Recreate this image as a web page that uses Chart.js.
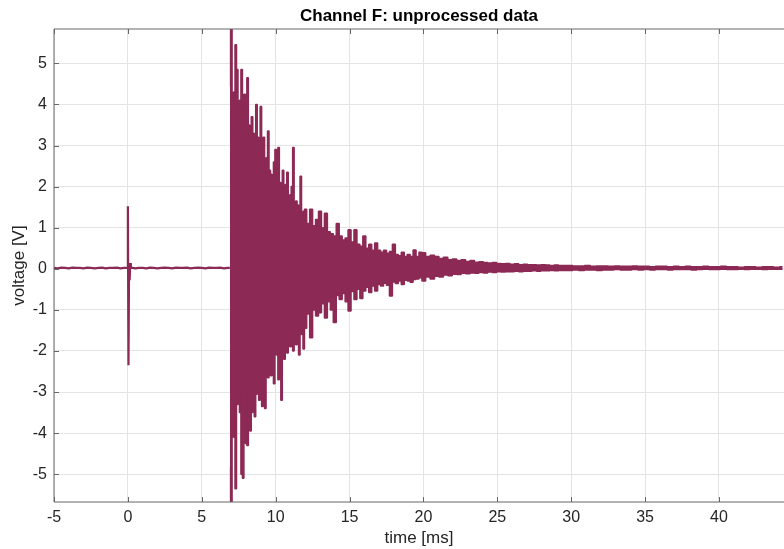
<!DOCTYPE html>
<html>
<head>
<meta charset="utf-8">
<script src="https://cdn.jsdelivr.net/npm/chart.js@4.4.1/dist/chart.umd.min.js"></script>
<style>
  html, body { margin: 0; padding: 0; background: #fff; }
  #wrap { width: 784px; height: 549px; position: relative; }
</style>
</head>
<body>
<div id="wrap"><canvas id="channelF"></canvas></div>
<script>
// axis ticks
const xTicks = [-5, 0, 5, 10, 15, 20, 25, 30, 35, 40];
const yTicks = [-5, -4, -3, -2, -1, 0, 1, 2, 3, 4, 5];

// quiet baseline before the burst, one sample every 0.25 ms from -5 ms
const baseStart = -5;
const baseStep = 0.25;
const baseValues = [0.02, 0.01, 0.03, 0.02, 0.01, 0.03, 0.02, 0.02, 0.01, 0.03,
  0.02, 0.01, 0.02, 0.03, 0.01, 0.02, 0.02, 0.03, 0.01, 0.02,
  0.02,
  0.03, 0.01, 0.02, 0.02, 0.01, 0.03, 0.02, 0.01, 0.02, 0.03,
  0.02, 0.01, 0.03, 0.02, 0.02, 0.03, 0.01, 0.02, 0.03, 0.02,
  0.01, 0.03, 0.02, 0.02, 0.03, 0.01, 0.02];
const onsetTime = 6.9;

// trigger spike at t = 0
const spikeTime = [-0.04, 0.0, 0.04, 0.08, 0.12, 0.16, 0.2];
const spikeValue = [0.02, 1.52, -2.35, 0.12, -0.28, 0.14, 0.02];

// burst: positive and negative peaks of the oscillation
// segment A, from 6.9 ms, every 0.1 ms
const upperA = [4.45, 5.85, 3.55, 4.3, 5.45, 4.85, 3.8, 4.1, 4.85, 3.7,
  4.25, 3.6, 4.65, 3.5, 3.1, 3.7, 3.3, 3.05, 4.0, 3.2,
  2.8, 3.95, 2.9, 3.2, 2.5, 2.7, 3.35, 2.4, 2.3, 2.05,
  2.6, 2.9, 2.0, 2.95, 2.1, 1.9, 2.4, 1.85, 2.05, 2.35,
  1.75, 1.8, 2.0, 2.95, 1.6, 1.65, 1.55, 1.45, 2.25, 1.3,
  1.4];
const lowerA = [-4.85, -5.7, -2.4, -4.1, -5.35, -3.3, -2.7, -3.5, -5.0, -5.1,
  -3.2, -4.25, -4.3, -3.0, -3.95, -3.5, -2.8, -3.6, -3.05, -2.5,
  -3.2, -2.6, -3.35, -2.4, -3.4, -2.2, -2.65, -2.0, -2.6, -1.9,
  -2.8, -2.0, -2.1, -2.7, -1.8, -3.2, -1.7, -2.2, -1.75, -2.05,
  -1.6, -1.9, -1.5, -2.0, -1.45, -1.85, -1.4, -2.1, -1.35, -1.6,
  -1.95];
// segment B, from 12 ms, every 0.2 ms
const upperB = [1.45, 1.1, 1.45, 1.05, 1.2, 1.4, 1.0, 1.35, 0.9, 0.85,
  0.8, 1.1, 0.8, 0.7, 0.75, 0.95, 0.65, 0.95, 0.6, 0.55,
  0.8, 0.5, 0.6, 0.45, 0.63, 0.45, 0.4, 0.45, 0.38, 0.42,
  0.6, 0.35, 0.32, 0.4, 0.3, 0.35, 0.3, 0.46, 0.3, 0.4];
const lowerB = [-1.45, -1.1, -1.68, -1.0, -1.15, -1.07, -0.85, -1.2, -0.8, -1.0,
  -1.31, -0.65, -0.75, -0.6, -0.8, -1.03, -0.55, -0.75, -0.5, -0.72,
  -0.54, -0.45, -0.58, -0.42, -0.54, -0.38, -0.42, -0.35, -0.4, -0.66,
  -0.32, -0.36, -0.3, -0.38, -0.28, -0.3, -0.33, -0.26, -0.25, -0.22];
// segment C, from 20 ms, every 0.3 ms
const upperC = [0.39, 0.3, 0.33, 0.3, 0.25, 0.28, 0.22, 0.24, 0.2, 0.22,
  0.18, 0.2, 0.16, 0.17, 0.15, 0.14, 0.15, 0.13, 0.12, 0.13,
  0.11, 0.12, 0.1, 0.11, 0.1, 0.1, 0.09, 0.1, 0.09, 0.08,
  0.09, 0.08, 0.08];
const lowerC = [-0.3, -0.2, -0.25, -0.18, -0.2, -0.15, -0.17, -0.13, -0.14, -0.11,
  -0.12, -0.1, -0.11, -0.09, -0.1, -0.08, -0.09, -0.07, -0.08, -0.07,
  -0.07, -0.06, -0.07, -0.06, -0.06, -0.05, -0.06, -0.05, -0.05, -0.04,
  -0.05, -0.04, -0.04];
// segment D, from 29.9 ms, every 0.4 ms
const upperD = [0.08, 0.07, 0.07, 0.08, 0.06, 0.07, 0.07, 0.06, 0.07, 0.06,
  0.06, 0.07, 0.06, 0.06, 0.05, 0.06, 0.06, 0.05, 0.06, 0.05,
  0.06, 0.05, 0.05, 0.06, 0.05, 0.05, 0.06, 0.05, 0.05, 0.04,
  0.05, 0.05, 0.04, 0.05, 0.05, 0.04, 0.05];
const lowerD = [-0.04, -0.03, -0.04, -0.03, -0.03, -0.04, -0.03, -0.03, -0.02, -0.03,
  -0.03, -0.02, -0.03, -0.02, -0.03, -0.02, -0.02, -0.03, -0.02, -0.02,
  -0.02, -0.03, -0.02, -0.01, -0.02, -0.02, -0.01, -0.02, -0.02, -0.01,
  -0.02, -0.01, -0.01, -0.02, -0.01, -0.01, -0.01];

const segments = [
  { t0: 6.9, dt: 0.1, upper: upperA, lower: lowerA },
  { t0: 12.0, dt: 0.2, upper: upperB, lower: lowerB },
  { t0: 20.0, dt: 0.3, upper: upperC, lower: lowerC },
  { t0: 29.9, dt: 0.4, upper: upperD, lower: lowerD }
];

const traceColor = '#8c2954';

// quiet part of the trace
let quiet = [];
baseValues.forEach((v, i) => {
  const t = baseStart + i * baseStep;
  if (Math.abs(t) > 0.1) quiet.push({ x: t, y: v });
});
spikeTime.forEach((t, i) => quiet.push({ x: t, y: spikeValue[i] }));
quiet.push({ x: onsetTime, y: 0.02 });
quiet.sort((a, b) => a.x - b.x);

// burst envelope, the band between is filled
let upperPts = [];
let lowerPts = [];
segments.forEach(s => {
  s.upper.forEach((v, i) => {
    const t = +(s.t0 + i * s.dt).toFixed(3);
    upperPts.push({ x: t, y: v });
    lowerPts.push({ x: t, y: s.lower[i] });
  });
});

// MATLAB style box and inward ticks
const frame = {
  id: 'frame',
  afterDatasetsDraw(chart) {
    const { ctx, chartArea: a, scales: { x, y } } = chart;
    ctx.save();
    ctx.strokeStyle = '#666666';
    ctx.lineWidth = 1;
    ctx.beginPath();
    ctx.moveTo(a.left, a.bottom);
    ctx.lineTo(a.left, a.top);
    ctx.lineTo(a.right, a.top);
    ctx.moveTo(a.left, a.bottom);
    ctx.lineTo(a.right, a.bottom);
    xTicks.forEach(t => {
      const px = Math.round(x.getPixelForValue(t)) + 0.5;
      ctx.moveTo(px, a.bottom);
      ctx.lineTo(px, a.bottom - 5);
      ctx.moveTo(px, a.top);
      ctx.lineTo(px, a.top + 5);
    });
    yTicks.forEach(t => {
      const py = Math.round(y.getPixelForValue(t)) + 0.5;
      ctx.moveTo(a.left, py);
      ctx.lineTo(a.left + 5, py);
    });
    ctx.stroke();
    ctx.restore();
  }
};

Chart.defaults.font.family = "'Liberation Sans', Arial, Helvetica, sans-serif";
Chart.defaults.color = '#262626';

const lineStyle = {
  borderColor: traceColor,
  backgroundColor: traceColor,
  borderJoinStyle: 'bevel',
  pointRadius: 0,
  tension: 0,
  clip: 0
};

new Chart(document.getElementById('channelF'), {
  type: 'line',
  data: {
    datasets: [
      Object.assign({ data: quiet, borderWidth: 2.2, fill: false }, lineStyle),
      Object.assign({ data: upperPts, borderWidth: 1.5, fill: false, stepped: 'middle' }, lineStyle),
      Object.assign({ data: lowerPts, borderWidth: 1.5, fill: '-1', stepped: 'middle' }, lineStyle)
    ]
  },
  options: {
    responsive: true,
    maintainAspectRatio: false,
    animation: false,
    layout: { padding: 0 },
    plugins: {
      legend: { display: false },
      tooltip: { enabled: false },
      title: {
        display: true,
        text: 'Channel F: unprocessed data',
        fullSize: false,
        color: '#000',
        font: { size: 17, weight: 'bold' },
        padding: { top: 6, bottom: 2.6 }
      }
    },
    scales: {
      x: {
        type: 'linear',
        min: -5,
        max: 44.4,
        afterFit: s => { s.height = 47; },
        border: { display: false },
        grid: { color: '#e4e4e4', drawTicks: false },
        ticks: { stepSize: 5, includeBounds: false, padding: 6, font: { size: 16 }, maxRotation: 0 },
        title: { display: true, text: 'time [ms]', font: { size: 17 }, padding: { top: 0, bottom: 0 } }
      },
      y: {
        min: -5.675,
        max: 5.835,
        afterFit: s => { s.width = 54; },
        border: { display: false },
        grid: { color: '#e4e4e4', drawTicks: false },
        ticks: { stepSize: 1, includeBounds: false, padding: 7, font: { size: 16 } },
        title: { display: true, text: 'voltage [V]', font: { size: 17 }, padding: { top: 9, bottom: 0 } }
      }
    }
  },
  plugins: [frame]
});
</script>
</body>
</html>
